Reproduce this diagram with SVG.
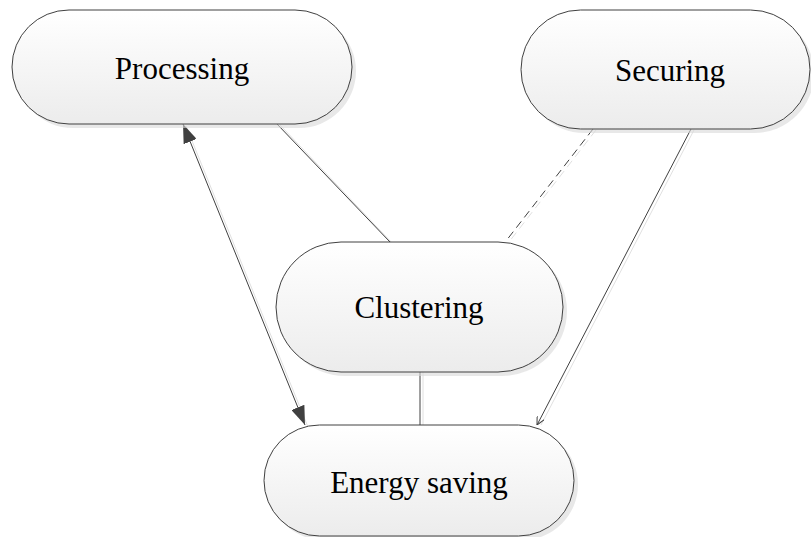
<svg xmlns="http://www.w3.org/2000/svg" width="811" height="537" viewBox="0 0 811 537">
<style>
.node rect.b{fill:url(#g);stroke:#404040;stroke-width:1}
.node rect.s{fill:#d9d9d9;stroke:none;opacity:0.6}
.node text{font-family:"Liberation Serif","Times New Roman",serif;font-size:31px;fill:#000;text-anchor:middle}
.c line{stroke:#404040;stroke-width:1;fill:none}
.c line.sh{stroke:#e0e0e0}
</style>
<defs>
<linearGradient id="g" x1="0" y1="0" x2="0" y2="1">
<stop offset="0" stop-color="#ffffff"/>
<stop offset="1" stop-color="#ececec"/>
</linearGradient>
<marker id="af" viewBox="0 0 19 14" refX="19" refY="7" markerWidth="19" markerHeight="14" markerUnits="userSpaceOnUse" orient="auto-start-reverse">
<path d="M0,0 L19,7 L0,14 Z" fill="#404040"/>
</marker>
<marker id="ao" viewBox="0 0 8 8" refX="8" refY="4" markerWidth="8" markerHeight="8" markerUnits="userSpaceOnUse" orient="auto">
<path d="M0,0 L8,4 L0,8" fill="none" stroke="#404040" stroke-width="1"/>
</marker>
</defs>
<g class="c" id="connectors">
<line class="sh" x1="280" y1="125" x2="393" y2="244"/>
<line x1="277" y1="124" x2="390" y2="242"/>
<line class="sh" x1="596" y1="130" x2="509" y2="242" stroke-dasharray="8,5"/>
<line x1="593" y1="129" x2="506" y2="241" stroke-dasharray="8,5"/>
<line class="sh" x1="694" y1="130" x2="541" y2="425"/>
<line x1="691" y1="129" x2="537" y2="425" marker-end="url(#ao)"/>
<line class="sh" x1="423" y1="372" x2="423" y2="425"/>
<line x1="420" y1="372" x2="420" y2="425"/>
<line class="sh" x1="186" y1="126" x2="308" y2="427"/>
<line x1="183" y1="124" x2="305" y2="425" marker-start="url(#af)" marker-end="url(#af)"/>
</g>
<g class="node" id="processing">
<rect class="s" x="16" y="14" width="340" height="114" rx="57"/>
<rect class="b" x="12" y="10" width="340" height="114" rx="57"/>
<text x="182" y="79">Processing</text>
</g>
<g class="node" id="securing">
<rect class="s" x="525" y="14" width="289" height="119" rx="59.5"/>
<rect class="b" x="521" y="10" width="289" height="119" rx="59.5"/>
<text x="670" y="81">Securing</text>
</g>
<g class="node" id="clustering">
<rect class="s" x="280" y="246" width="287" height="130" rx="65"/>
<rect class="b" x="276" y="242" width="287" height="130" rx="65"/>
<text x="419" y="318">Clustering</text>
</g>
<g class="node" id="energy-saving">
<rect class="s" x="268" y="429" width="310" height="111" rx="55.5"/>
<rect class="b" x="264" y="425" width="310" height="111" rx="55.5"/>
<text x="419" y="493">Energy saving</text>
</g>
</svg>
